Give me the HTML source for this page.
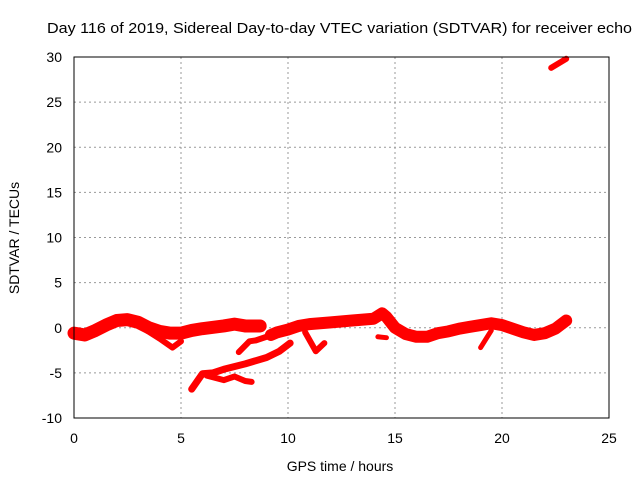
<!DOCTYPE html>
<html><head><meta charset="utf-8"><style>
body{margin:0;background:#fff;}
svg text{font-family:"Liberation Sans",sans-serif;font-size:14px;fill:#000;}
</style></head><body>
<svg id="chart" width="640" height="480" xmlns="http://www.w3.org/2000/svg">
<text x="47" y="33" textLength="585" lengthAdjust="spacingAndGlyphs" style="font-size:15px">Day 116 of 2019, Sidereal Day-to-day VTEC variation (SDTVAR) for receiver echo</text>
<g id="grid"></g>
<g id="axes"></g>
<g id="series"></g>
<rect x="74" y="57" width="535" height="361" fill="none" stroke="#000" stroke-width="1"/>
<text x="340" y="471" text-anchor="middle">GPS time / hours</text>
<text transform="translate(19,238) rotate(-90)" text-anchor="middle">SDTVAR / TECUs</text>
</svg>
<script>
const xTicks=[0,5,10,15,20,25];
const yTicks=[-10,-5,0,5,10,15,20,25,30];
const mainBand=[[0,-0.6],[0.5,-0.8],[1,-0.3],[1.5,0.3],[2,0.8],[2.5,0.9],[3,0.6],[3.5,0],[4,-0.4],[4.5,-0.6],[5,-0.6],[5.5,-0.3],[6,-0.1],[7,0.2],[7.5,0.4],[8,0.2],[8.7,0.2]];
const band2=[[9.2,-0.8],[9.5,-0.5],[10,-0.2],[10.5,0.2],[11,0.4],[12,0.6],[13,0.8],[14,1.0],[14.4,1.6],[14.6,1.2],[15,0],[15.5,-0.7],[16,-1.0],[16.5,-1.0],[17,-0.6],[17.5,-0.4],[18,-0.1],[18.5,0.1],[19,0.3],[19.5,0.5],[20,0.3],[20.5,-0.1],[21,-0.5],[21.5,-0.8],[22,-0.6],[22.5,-0.1],[23,0.8]];
const dip4=[[3.2,0],[4,-1.2],[4.6,-2.2],[5,-1.5]];
const branch8=[[7.7,-2.7],[8.2,-1.5],[8.5,-1.4],[9,-1.0],[9.5,-0.6]];
const branch11=[[10.8,-0.5],[11.3,-2.6],[11.7,-1.7]];
const lowerLine=[[5.5,-6.8],[6,-5.1],[6.5,-5.0],[7,-4.6],[8,-4.0],[9,-3.3],[9.6,-2.6],[10.1,-1.7]];
const wiggle=[[6.2,-5.3],[7,-5.8],[7.5,-5.4],[8,-5.9],[8.3,-6.0]];
const branch19=[[19.5,-0.3],[19,-2.2]];
const bit14=[[14.2,-1.0],[14.6,-1.1]];
const topBit=[[22.3,28.8],[23.0,29.8]];
const X=h=>74+h*535/25, Y=v=>418-(v+10)*361/40;
const NS="http://www.w3.org/2000/svg";
const grid=document.getElementById('grid'),axes=document.getElementById('axes'),ser=document.getElementById('series');
function mk(t,a,p){const e=document.createElementNS(NS,t);for(const k in a)e.setAttribute(k,a[k]);p.appendChild(e);return e;}
xTicks.forEach(t=>{
 if(t>0&&t<25){const g=mk('line',{x1:X(t),x2:X(t),y1:57,y2:418,stroke:'#999','stroke-dasharray':'2,3'},grid);
 
 }
 const tk=mk('text',{x:X(t),y:443,'text-anchor':'middle'},axes);tk.textContent=t;
 
 
});
yTicks.forEach(t=>{
 if(t>-10&&t<30){const g=mk('line',{x1:74,x2:609,y1:Y(t),y2:Y(t),stroke:'#999','stroke-dasharray':'2,3'},grid);
 
 }
 const tk=mk('text',{x:62,y:Y(t)+5,'text-anchor':'end'},axes);tk.textContent=t;
 
 
});
function draw(arr,w,name){
 const p=mk('polyline',{points:arr.map(d=>X(d[0])+','+Y(d[1])).join(' '),fill:'none',stroke:'#f00','stroke-width':w,'stroke-linejoin':'round','stroke-linecap':'round'},ser);
 
 
}
draw(mainBand,13,'main-band');
draw(band2,12,'main-band-2');
draw(dip4,6,'dip-branch-4h');
draw(branch8,6,'branch-8h');
draw(branch11,6,'branch-11h');
draw(lowerLine,7,'lower-line');
draw(wiggle,6,'lower-wiggle');
draw(branch19,5,'branch-19h');
draw(bit14,5,'fragment-14h');
draw(topBit,6,'top-fragment');
</script>
</body></html>
